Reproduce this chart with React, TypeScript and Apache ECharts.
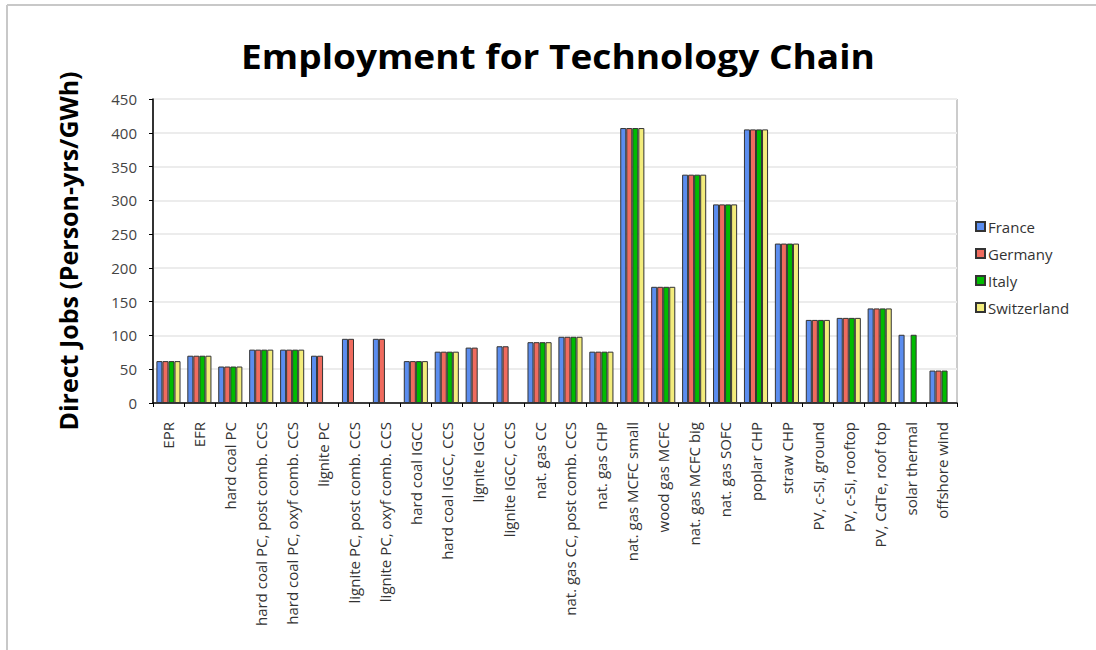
import React, { useEffect, useRef } from "react";
import * as echarts from "echarts";

const categories = [
  "EPR",
  "EFR",
  "hard coal PC",
  "hard coal PC, post comb. CCS",
  "hard coal PC, oxyf comb. CCS",
  "lignite PC",
  "lignite PC, post comb. CCS",
  "lignite PC, oxyf comb. CCS",
  "hard coal IGCC",
  "hard coal IGCC, CCS",
  "lignite IGCC",
  "lignite IGCC, CCS",
  "nat. gas CC",
  "nat. gas CC, post comb. CCS",
  "nat. gas CHP",
  "nat. gas MCFC small",
  "wood gas MCFC",
  "nat. gas MCFC big",
  "nat. gas SOFC",
  "poplar CHP",
  "straw CHP",
  "PV, c-Si, ground",
  "PV, c-Si, rooftop",
  "PV, CdTe, roof top",
  "solar thermal",
  "offshore wind",
];

const france = [62, 70, 54, 79, 79, 70, 95, 95, 62, 76, 82, 84, 90, 98, 76, 407, 172, 338, 294, 405, 236, 123, 126, 140, 101, 48];
const germany = [62, 70, 54, 79, 79, 70, 95, 95, 62, 76, 82, 84, 90, 98, 76, 407, 172, 338, 294, 405, 236, 123, 126, 140, null, 48];
const italy = [62, 70, 54, 79, 79, null, null, null, 62, 76, null, null, 90, 98, 76, 407, 172, 338, 294, 405, 236, 123, 126, 140, 101, 48];
const switzerland = [62, 70, 54, 79, 79, null, null, null, 62, 76, null, null, 90, 98, 76, 407, 172, 338, 294, 405, 236, 123, 126, 140, null, null];

const seriesNames = ["France", "Germany", "Italy", "Switzerland"];
const seriesColors = ["#5b8def", "#ef6b5e", "#00bb00", "#f3ec7c"];
const seriesData = [france, germany, italy, switzerland];

const chartTitle = "Employment for Technology Chain";
const yAxisTitle = "Direct Jobs (Person-yrs/GWh)";

export default function App() {
  const ref = useRef<HTMLDivElement>(null);
  useEffect(() => {
    if (!ref.current) return;
    const chart = echarts.init(ref.current, undefined, { renderer: "svg" });
    const font = "'Open Sans', sans-serif";
    chart.setOption({
      animation: false,
      backgroundColor: "#ffffff",
      graphic: [
        { type: "line", shape: { x1: 7, y1: 5, x2: 1096, y2: 5 }, style: { stroke: "#c8c8c8", lineWidth: 2 } },
        { type: "line", shape: { x1: 7, y1: 5, x2: 7, y2: 650 }, style: { stroke: "#c8c8c8", lineWidth: 2 } },
        {
          type: "text",
          x: 558,
          y: 56,
          scaleX: 1.09,
          style: {
            text: chartTitle,
            fontFamily: font,
            fontWeight: "bold",
            fontSize: 34,
            fill: "#000",
            textAlign: "center",
            textVerticalAlign: "middle",
          },
        },
      ],
      legend: {
        orient: "vertical",
        left: 970,
        top: 214,
        itemWidth: 9,
        itemHeight: 9,
        itemGap: 12,
        icon: "rect",
        textStyle: { fontFamily: font, fontSize: 15, color: "#333", padding: [0, 0, 0, -2] },
        data: seriesNames,
      },
      grid: {
        left: 153,
        right: 139,
        top: 99,
        bottom: 247,
        show: true,
        borderColor: "#999",
        borderWidth: 1,
        containLabel: false,
      },
      xAxis: {
        type: "category",
        data: categories,
        axisLine: { lineStyle: { color: "#000", width: 1.5 } },
        axisTick: { show: true, length: 4, lineStyle: { color: "#000" } },
        axisLabel: {
          rotate: 90,
          interval: 0,
          margin: 19,
          fontFamily: font,
          fontSize: 15,
          color: "#333",
        },
      },
      yAxis: {
        type: "value",
        min: 0,
        max: 450,
        interval: 50,
        name: yAxisTitle,
        nameLocation: "middle",
        nameGap: 73,
        nameTextStyle: { fontFamily: font, fontWeight: "bold", fontSize: 25, color: "#000" },
        axisLine: { show: true, lineStyle: { color: "#000", width: 1.5 } },
        axisTick: { show: true, length: 4, lineStyle: { color: "#000" } },
        axisLabel: { fontFamily: font, fontSize: 15, color: "#444", margin: 16 },
        splitLine: { show: true, lineStyle: { color: "#ececec", width: 2 } },
      },
      series: seriesNames.map((name, i) => ({
        name,
        type: "bar",
        data: seriesData[i],
        barGap: "0%",
        barCategoryGap: "22%",
        itemStyle: { color: seriesColors[i], borderColor: "#333", borderWidth: 1 },
      })),
    });
    return () => chart.dispose();
  }, []);
  return (
    <div
      ref={ref}
      style={{ position: "fixed", left: 0, top: 0, width: 1096, height: 650 }}
    />
  );
}
